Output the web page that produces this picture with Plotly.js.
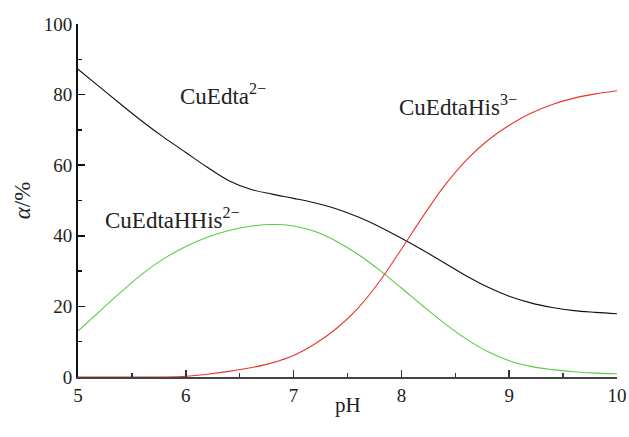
<!DOCTYPE html>
<html>
<head>
<meta charset="utf-8">
<script src="https://cdn.plot.ly/plotly-3.0.1.min.js"></script>
<style>html,body{margin:0;padding:0;background:#fff;}#chart{width:629px;height:437px;}</style>
</head>
<body>
<div id="chart"></div>
<script>
const pH = [5.0, 5.2, 5.4, 5.6, 5.8, 6.0, 6.2, 6.4, 6.6, 6.8, 7.0, 7.2, 7.4, 7.6, 7.8, 8.0, 8.2, 8.4, 8.6, 8.8, 9.0, 9.2, 9.4, 9.6, 9.8, 10.0];
const cuEdta = [87.2, 82.2, 77.2, 72.3, 67.8, 63.6, 59.4, 55.6, 53.2, 51.8, 50.6, 49.3, 47.6, 45.3, 42.5, 39.3, 35.9, 32.3, 28.7, 25.5, 22.9, 21.0, 19.7, 18.8, 18.3, 17.9];
const cuEdtaHHis = [13.0, 18.6, 24.1, 29.3, 33.6, 37.0, 39.6, 41.5, 42.7, 43.2, 42.8, 41.2, 38.4, 34.7, 30.2, 25.2, 20.1, 15.2, 10.8, 7.2, 4.6, 3.0, 2.1, 1.5, 1.1, 0.9];
const cuEdtaHis = [0.0, 0.0, 0.0, 0.0, 0.0, 0.2, 0.8, 1.6, 2.6, 4.0, 6.1, 9.4, 13.8, 19.6, 27.2, 36.2, 45.5, 54.2, 61.4, 67.0, 71.3, 74.7, 77.2, 79.0, 80.2, 81.1];
const labels = ["CuEdta<sup>2−</sup>", "CuEdtaHHis<sup>2−</sup>", "CuEdtaHis<sup>3−</sup>"];
const xTitle = "pH";
const yTitle = "<i>α</i>/%";
const xTicks = [5, 6, 7, 8, 9, 10];
const yTicks = [0, 20, 40, 60, 80, 100];

const serif = "Liberation Serif";
const traces = [
  {x: pH, y: cuEdta, mode: "lines", line: {color: "#111111", width: 1.1, shape: "spline", smoothing: 1}},
  {x: pH, y: cuEdtaHHis, mode: "lines", line: {color: "#5cc948", width: 1.1, shape: "spline", smoothing: 1}},
  {x: pH, y: cuEdtaHis, mode: "lines", line: {color: "#e8352c", width: 1.1, shape: "spline", smoothing: 1}}
];
const layout = {
  width: 629, height: 437,
  margin: {l: 78, r: 12, t: 24, b: 60},
  paper_bgcolor: "#fff", plot_bgcolor: "#fff",
  showlegend: false,
  font: {family: serif, color: "#222", size: 18},
  xaxis: {
    range: [5, 10], tickvals: xTicks, ticktext: xTicks.map(String),
    showgrid: false, zeroline: false, showline: true, linecolor: "#444", linewidth: 2,
    ticks: "inside", ticklen: 7, tickwidth: 1.5, tickcolor: "#333",
    minor: {dtick: 0.5, tick0: 5, ticks: "inside", ticklen: 4, tickwidth: 1.5, tickcolor: "#333"},
    tickfont: {family: serif, size: 19, color: "#222"}
  },
  yaxis: {
    range: [0, 100], tickvals: yTicks, ticktext: yTicks.map(String),
    showgrid: false, zeroline: false, showline: true, linecolor: "#111", linewidth: 2,
    ticks: "inside", ticklen: 7, tickwidth: 1.5, tickcolor: "#111",
    minor: {dtick: 10, tick0: 0, ticks: "inside", ticklen: 4, tickwidth: 1.5, tickcolor: "#111"},
    tickfont: {family: serif, size: 19, color: "#222"},
    title: {text: yTitle, font: {family: serif, size: 23, color: "#222"}, standoff: 7}
  },
  annotations: [
    {x: 5.93, y: 80.0, text: labels[0], xanchor: "left", yanchor: "middle", showarrow: false, font: {family: serif, size: 23, color: "#222"}},
    {x: 5.23, y: 45.0, text: labels[1], xanchor: "left", yanchor: "middle", showarrow: false, font: {family: serif, size: 23, color: "#222"}},
    {x: 7.96, y: 77.0, text: labels[2], xanchor: "left", yanchor: "middle", showarrow: false, font: {family: serif, size: 23, color: "#222"}},
    {x: 0.5, y: -0.078, xref: "paper", yref: "paper", text: xTitle, xanchor: "center", yanchor: "middle", showarrow: false, font: {family: serif, size: 21, color: "#222"}}
  ]
};
Plotly.newPlot("chart", traces, layout, {displayModeBar: false, staticPlot: true});
</script>
</body>
</html>
